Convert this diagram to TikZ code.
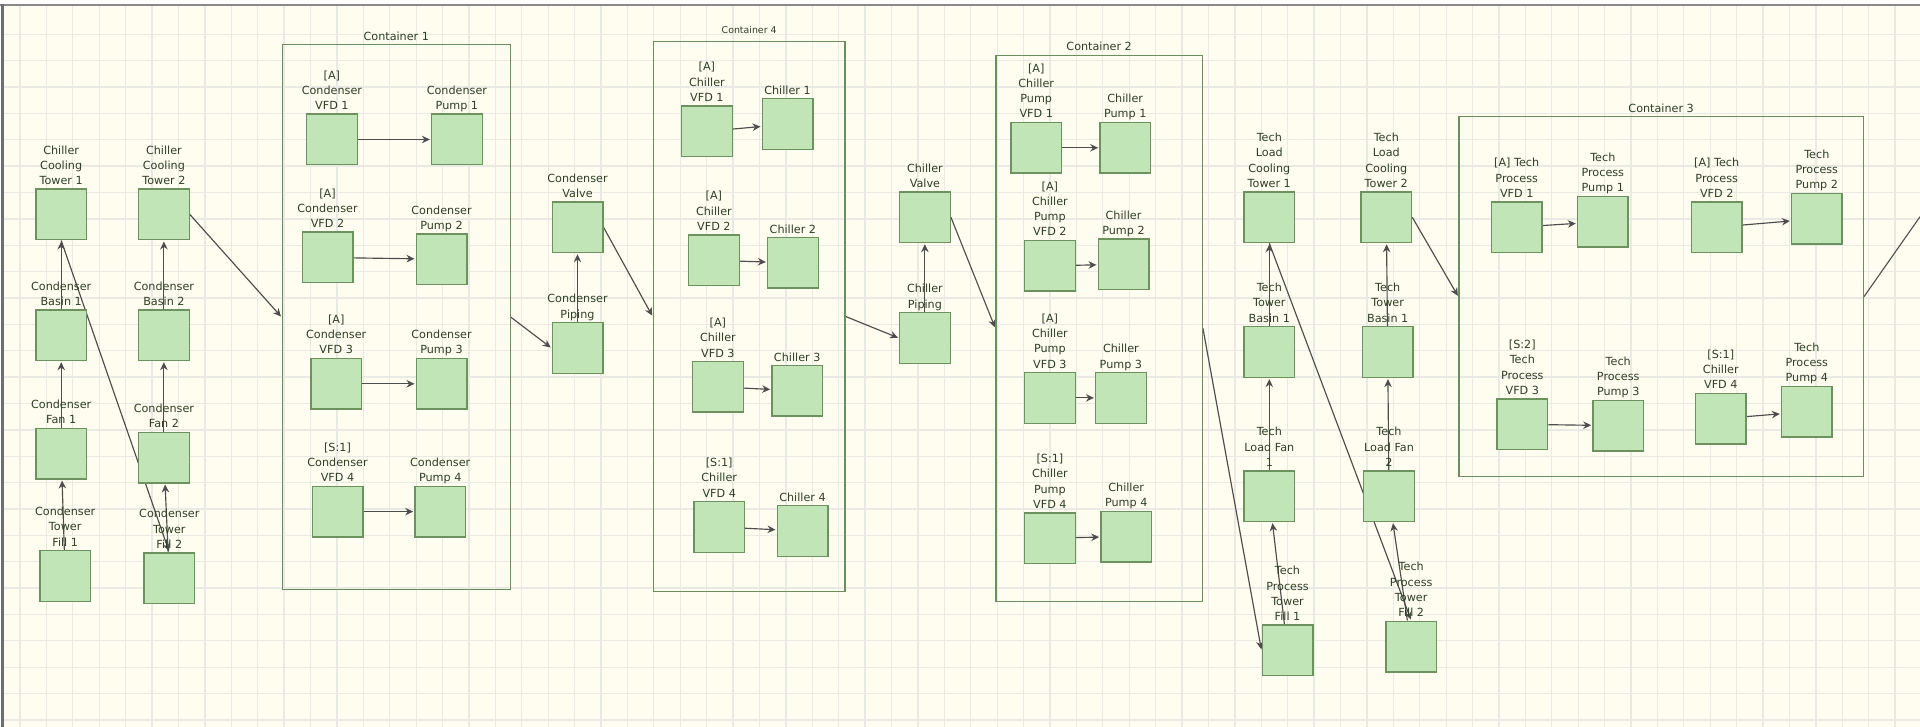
\documentclass[tikz,border=0pt]{standalone}
\usepackage{fontspec}
\setmainfont{DejaVu Sans}
\usetikzlibrary{arrows.meta}
\definecolor{bgc}{HTML}{FEFDEF}
\definecolor{gridc}{HTML}{EAEAE4}
\definecolor{boxfill}{HTML}{C2E5B7}
\definecolor{boxline}{HTML}{6C925F}
\definecolor{contline}{HTML}{6A8E5D}
\definecolor{txt}{HTML}{2F3F26}
\definecolor{edgec}{HTML}{4D4D4D}
\definecolor{frame}{HTML}{8A8A8A}
\pgfdeclarelayer{gridlayer}
\pgfdeclarelayer{edgelayer}
\pgfsetlayers{gridlayer,edgelayer,main}
\begin{document}
\begin{tikzpicture}[x=1pt,y=-1pt,
  box/.style={draw=boxline, fill=boxfill, line width=1.4pt, minimum width=50.6pt, minimum height=50.6pt, inner sep=0pt},
  lbl/.style={anchor=south, align=center, inner sep=0pt, yshift=0.6pt, text=txt,
     font=\fontsize{11.2}{15.3}\selectfont, execute at end node={\rule[-3pt]{0pt}{3pt}}},
  cont/.style={draw=contline, line width=1.3pt, inner sep=0pt},
  ctitle/.style={anchor=base, inner sep=0pt, yshift=3.8pt, text=txt, font=\fontsize{11.2}{13}\selectfont},
  conn/.style={draw=edgec, line width=1.15pt, -{Stealth[length=8pt,width=7.5pt]}, shorten >=1pt},
  plain/.style={draw=edgec, line width=1.1pt},
]
\useasboundingbox (0,0) rectangle (1920,727);
\begin{pgfonlayer}{gridlayer}
\fill[white] (0,0) rectangle (1920,727);
\fill[bgc] (2,6) rectangle (1920,727);
\foreach \i in {0,...,71} \draw[gridc, line width=1.3pt] ({20+26.41*\i},6) -- ({20+26.41*\i},727);
\foreach \j in {0,...,26} \draw[gridc, line width=1.3pt] (2,{34.3+26.37*\j}) -- (1920,{34.3+26.37*\j});
\draw[frame, line width=2pt] (0,5.5) -- (1920,5.5);
\draw[frame!80!black, line width=2.4pt] (2.4,4.5) -- (2.4,727);
\end{pgfonlayer}

% ---------- containers ----------
\node[cont, minimum width=228pt, minimum height=544.9pt] (k1) at (396.3,317.25) {};
\node[ctitle] at (k1.north) {Container 1};
\node[cont, minimum width=191.7pt, minimum height=550pt] (k4) at (749.15,316.5) {};
\node[ctitle, font=\fontsize{9.4}{11}\selectfont, yshift=3.4pt] at (k4.north) {Container 4};
\node[cont, minimum width=206.3pt, minimum height=546.3pt] (k2) at (1099.15,328.35) {};
\node[ctitle] at (k2.north) {Container 2};
\node[cont, minimum width=404.3pt, minimum height=360pt] (k3) at (1661.15,296.7) {};
\node[ctitle] at (k3.north) {Container 3};

% ---------- left group ----------
\node[box] (ct1) at (61.2,214.5) {};   \node[lbl] at (ct1.north) {Chiller\\Cooling\\Tower 1};
\node[box] (ct2) at (163.9,214.5) {};  \node[lbl] at (ct2.north) {Chiller\\Cooling\\Tower 2};
\node[box] (cb1) at (61.2,335.2) {};   \node[lbl] at (cb1.north) {Condenser\\Basin 1};
\node[box] (cb2) at (163.9,335.2) {};  \node[lbl] at (cb2.north) {Condenser\\Basin 2};
\node[box] (cf1) at (61.2,453.5) {};   \node[lbl] at (cf1.north) {Condenser\\Fan 1};
\node[box] (cf2) at (163.9,457.5) {};  \node[lbl] at (cf2.north) {Condenser\\Fan 2};
\node[box] (cfill1) at (65.2,575.9) {};  \node[lbl] at (cfill1.north) {Condenser\\Tower\\Fill 1};
\node[box] (cfill2) at (169.3,578.2) {}; \node[lbl] at (cfill2.north) {Condenser\\Tower\\Fill 2};

% ---------- container 1 ----------
\node[box] (c1v1) at (331.9,139.5) {}; \node[lbl] at (c1v1.north) {[A]\\Condenser\\VFD 1};
\node[box] (c1p1) at (456.9,139.5) {}; \node[lbl] at (c1p1.north) {Condenser\\Pump 1};
\node[box] (c1v2) at (327.5,257.5) {}; \node[lbl] at (c1v2.north) {[A]\\Condenser\\VFD 2};
\node[box] (c1p2) at (441.5,259.2) {}; \node[lbl] at (c1p2.north) {Condenser\\Pump 2};
\node[box] (c1v3) at (336.2,383.8) {}; \node[lbl] at (c1v3.north) {[A]\\Condenser\\VFD 3};
\node[box] (c1p3) at (441.5,383.8) {}; \node[lbl] at (c1p3.north) {Condenser\\Pump 3};
\node[box] (c1v4) at (337.5,511.6) {}; \node[lbl] at (c1v4.north) {[S:1]\\Condenser\\VFD 4};
\node[box] (c1p4) at (440.2,511.6) {}; \node[lbl] at (c1p4.north) {Condenser\\Pump 4};
\node[box] (cvalve) at (577.5,227.2) {};  \node[lbl] at (cvalve.north) {Condenser\\Valve};
\node[box] (cpiping) at (577.5,348.1) {}; \node[lbl] at (cpiping.north) {Condenser\\Piping};

% ---------- container 4 ----------
\node[box] (c4v1) at (706.9,131.4) {}; \node[lbl] at (c4v1.north) {[A]\\Chiller\\VFD 1};
\node[box] (ch1) at (787.5,124.1) {};  \node[lbl] at (ch1.north) {Chiller 1};
\node[box] (c4v2) at (713.9,260.3) {}; \node[lbl] at (c4v2.north) {[A]\\Chiller\\VFD 2};
\node[box] (ch2) at (792.9,262.9) {};  \node[lbl] at (ch2.north) {Chiller 2};
\node[box] (c4v3) at (717.9,386.8) {}; \node[lbl] at (c4v3.north) {[A]\\Chiller\\VFD 3};
\node[box] (ch3) at (797.2,390.8) {};  \node[lbl] at (ch3.north) {Chiller 3};
\node[box] (c4v4) at (719.2,527) {};   \node[lbl] at (c4v4.north) {[S:1]\\Chiller\\VFD 4};
\node[box] (ch4) at (802.5,531) {};    \node[lbl] at (ch4.north) {Chiller 4};
\node[box] (chvalve) at (924.9,217.2) {};  \node[lbl] at (chvalve.north) {Chiller\\Valve};
\node[box] (chpiping) at (924.9,338.1) {}; \node[lbl] at (chpiping.north) {Chiller\\Piping};

% ---------- container 2 ----------
\node[box] (c2v1) at (1036.2,147.8) {}; \node[lbl] at (c2v1.north) {[A]\\Chiller\\Pump\\VFD 1};
\node[box] (cp1) at (1125.2,147.8) {};  \node[lbl] at (cp1.north) {Chiller\\Pump 1};
\node[box] (c2v2) at (1049.9,265.8) {}; \node[lbl] at (c2v2.north) {[A]\\Chiller\\Pump\\VFD 2};
\node[box] (cp2) at (1123.5,264.3) {};  \node[lbl] at (cp2.north) {Chiller\\Pump 2};
\node[box] (c2v3) at (1049.9,397.9) {}; \node[lbl] at (c2v3.north) {[A]\\Chiller\\Pump\\VFD 3};
\node[box] (cp3) at (1120.9,397.9) {};  \node[lbl] at (cp3.north) {Chiller\\Pump 3};
\node[box] (c2v4) at (1049.9,538.1) {}; \node[lbl] at (c2v4.north) {[S:1]\\Chiller\\Pump\\VFD 4};
\node[box] (cp4) at (1126.2,536.6) {};  \node[lbl] at (cp4.north) {Chiller\\Pump 4};

% ---------- tech towers ----------
\node[box] (tt1) at (1269.3,217.3) {}; \node[lbl] at (tt1.north) {Tech\\Load\\Cooling\\Tower 1};
\node[box] (tt2) at (1386.3,217.3) {}; \node[lbl] at (tt2.north) {Tech\\Load\\Cooling\\Tower 2};
\node[box] (tb1) at (1269.3,352.1) {}; \node[lbl] at (tb1.north) {Tech\\Tower\\Basin 1};
\node[box] (tb2) at (1387.7,352.1) {}; \node[lbl] at (tb2.north) {Tech\\Tower\\Basin 1};
\node[box] (tf1) at (1269.3,496.2) {}; \node[lbl] at (tf1.north) {Tech\\Load Fan\\1};
\node[box] (tf2) at (1389,496.2) {};   \node[lbl] at (tf2.north) {Tech\\Load Fan\\2};
\node[box] (tfill1) at (1287.5,650.4) {}; \node[lbl] at (tfill1.north) {Tech\\Process\\Tower\\Fill 1};
\node[box] (tfill2) at (1411.2,646.5) {}; \node[lbl] at (tfill2.north) {Tech\\Process\\Tower\\Fill 2};

% ---------- container 3 ----------
\node[box] (c3v1) at (1516.7,227.2) {}; \node[lbl] at (c3v1.north) {[A] Tech\\Process\\VFD 1};
\node[box] (tp1) at (1602.8,221.7) {};  \node[lbl] at (tp1.north) {Tech\\Process\\Pump 1};
\node[box] (c3v2) at (1716.7,227.2) {}; \node[lbl] at (c3v2.north) {[A] Tech\\Process\\VFD 2};
\node[box] (tp2) at (1816.8,218.8) {};  \node[lbl] at (tp2.north) {Tech\\Process\\Pump 2};
\node[box] (c3v3) at (1522.3,424.3) {}; \node[lbl] at (c3v3.north) {[S:2]\\Tech\\Process\\VFD 3};
\node[box] (tp3) at (1618.2,425.7) {};  \node[lbl] at (tp3.north) {Tech\\Process\\Pump 3};
\node[box] (c3v4) at (1720.8,418.7) {}; \node[lbl] at (c3v4.north) {[S:1]\\Chiller\\VFD 4};
\node[box] (tp4) at (1806.8,411.7) {};  \node[lbl] at (tp4.north) {Tech\\Process\\Pump 4};

\coordinate (offR) at (1920,216.7);

% ---------- connectors ----------
\begin{pgfonlayer}{edgelayer}
\draw[conn] (cb1) -- (ct1);
\draw[conn] (cf1) -- (cb1);
\draw[conn] (cfill1) -- (cf1);
\draw[conn] (cb2) -- (ct2);
\draw[conn] (cf2) -- (cb2);
\draw[conn] (cfill2) -- (cf2);
\draw[conn] (ct1.south) -- (cfill2.north);
\draw[conn] (ct2.east) -- (k1.west);
\draw[conn] (c1v1) -- (c1p1);
\draw[conn] (c1v2) -- (c1p2);
\draw[conn] (c1v3) -- (c1p3);
\draw[conn] (c1v4) -- (c1p4);
\draw[conn] (k1.east) -- (cpiping.west);
\draw[conn] (cpiping) -- (cvalve);
\draw[conn] (cvalve.east) -- (k4.west);
\draw[conn] (c4v1) -- (ch1);
\draw[conn] (c4v2) -- (ch2);
\draw[conn] (c4v3) -- (ch3);
\draw[conn] (c4v4) -- (ch4);
\draw[conn] (k4.east) -- (chpiping.west);
\draw[conn] (chpiping) -- (chvalve);
\draw[conn] (chvalve.east) -- (k2.west);
\draw[conn] (c2v1) -- (cp1);
\draw[conn] (c2v2) -- (cp2);
\draw[conn] (c2v3) -- (cp3);
\draw[conn] (c2v4) -- (cp4);
\draw[conn] (k2.east) -- (tfill1.west);
\draw[conn] (tb1) -- (tt1);
\draw[conn] (tf1) -- (tb1);
\draw[conn] (tfill1) -- (tf1);
\draw[conn] (tb2) -- (tt2);
\draw[conn] (tf2) -- (tb2);
\draw[conn] (tfill2) -- (tf2);
\draw[conn] (tt1.south) -- (tfill2.north);
\draw[conn] (tt2.east) -- (k3.west);
\draw[conn] (c3v1) -- (tp1);
\draw[conn] (c3v2) -- (tp2);
\draw[conn] (c3v3) -- (tp3);
\draw[conn] (c3v4) -- (tp4);
\draw[plain] (k3.east) -- (offR);
\end{pgfonlayer}
\end{tikzpicture}
\end{document}
